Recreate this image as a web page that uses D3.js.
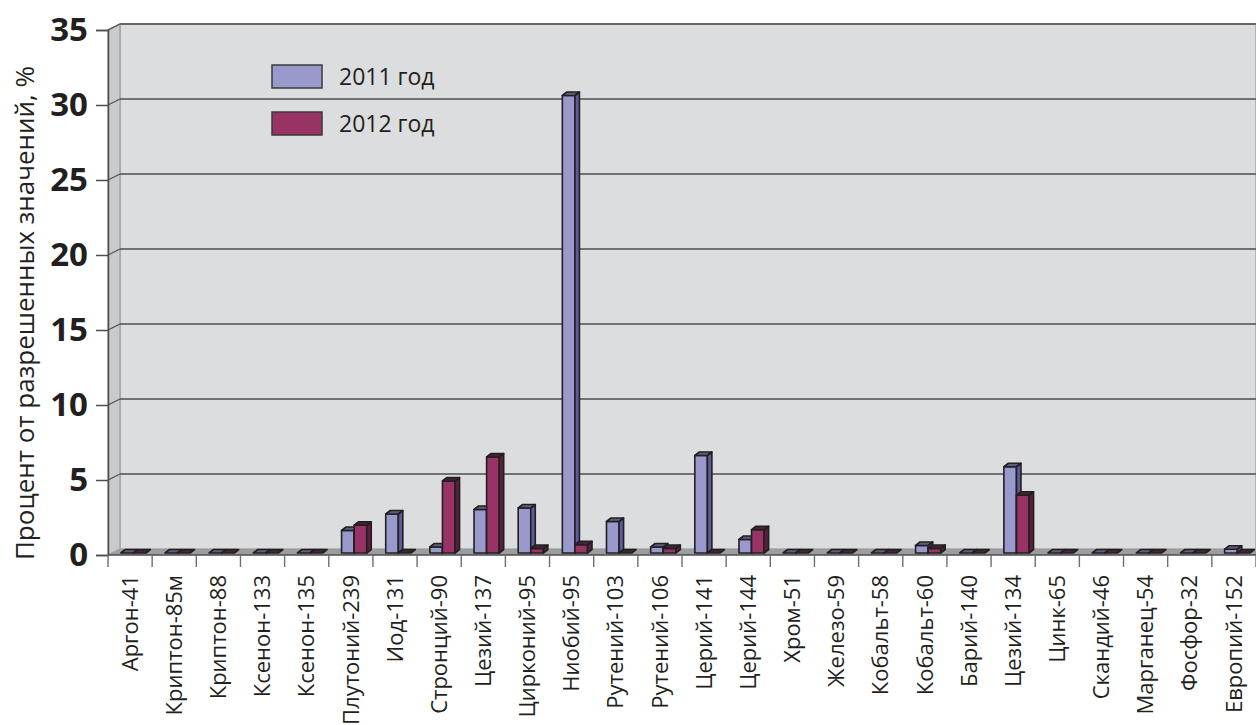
<!DOCTYPE html>
<html lang="ru">
<head>
<meta charset="utf-8">
<script src="https://cdn.jsdelivr.net/npm/d3@7/dist/d3.min.js"></script>
<style>
  html, body { margin: 0; padding: 0; background: #ffffff; }
  svg { display: block; font-family: "Open Sans", "DejaVu Sans", sans-serif; }
</style>
</head>
<body>
<svg id="chart" width="1256" height="725"></svg>
<script>
// Isotopes (categories along the x axis)
const categories = [
  "Аргон-41", "Криптон-85м", "Криптон-88", "Ксенон-133", "Ксенон-135",
  "Плутоний-239", "Иод-131", "Стронций-90", "Цезий-137", "Цирконий-95",
  "Ниобий-95", "Рутений-103", "Рутений-106", "Церий-141", "Церий-144",
  "Хром-51", "Железо-59", "Кобальт-58", "Кобальт-60", "Барий-140",
  "Цезий-134", "Цинк-65", "Скандий-46", "Марганец-54", "Фосфор-32", "Европий-152"
];

// Share of the permitted level, %
const values2011 = [
  0, 0, 0, 0, 0,
  1.5, 2.6, 0.4, 2.9, 3.0,
  30.5, 2.1, 0.4, 6.5, 0.9,
  0, 0, 0, 0.5, 0,
  5.75, 0, 0, 0, 0, 0.25
];
const values2012 = [
  0, 0, 0, 0, 0,
  1.85, 0, 4.8, 6.4, 0.3,
  0.55, 0, 0.3, 0, 1.55,
  0, 0, 0, 0.3, 0,
  3.85, 0, 0, 0, 0, 0
];

const seriesNames = ["2011 год", "2012 год"];
const yTicks = [0, 5, 10, 15, 20, 25, 30, 35];
const yTitle = "Процент от разрешенных значений, %";

const palette = [
  { front: "#9999cc", side: "#5b5b9e", top: "#5e5e80" },
  { front: "#993366", side: "#5a1f3c", top: "#42253a" }
];

const svg = d3.select("#chart");

// Plot frame: front face and depth offset of the walls
const plotLeft = 108, plotRight = 1256, plotTop = 30, plotBottom = 555;
const depthX = 12, depthY = -6;

const x = d3.scaleBand().domain(categories).range([plotLeft, plotRight]);
const y = d3.scaleLinear().domain([0, 35]).range([plotBottom, plotTop]);
// bars stand in the middle of the floor depth
const yBar = d3.scaleLinear().domain([0, 35]).range([plotBottom - 2, plotTop - 2]);
const xSub = d3.scaleBand().domain([0, 1])
  .range([x.bandwidth() * 0.29, x.bandwidth() * 0.86]);

// Back wall
svg.append("rect")
  .attr("x", plotLeft + depthX).attr("y", plotTop + depthY)
  .attr("width", plotRight - plotLeft - depthX).attr("height", plotBottom - plotTop)
  .attr("fill", "#dcdddf").attr("stroke", "#a6a7a9").attr("stroke-width", 1.5);

// Side wall
svg.append("polygon")
  .attr("points", [[plotLeft, plotTop], [plotLeft + depthX, plotTop + depthY], [plotLeft + depthX, plotBottom + depthY], [plotLeft, plotBottom]].join(" "))
  .attr("fill", "#c9cacc").attr("stroke", "#a6a7a9").attr("stroke-width", 1.5);

// Floor
svg.append("polygon")
  .attr("points", [[plotLeft, plotBottom], [plotLeft + depthX, plotBottom + depthY], [plotRight, plotBottom + depthY], [plotRight, plotBottom]].join(" "))
  .attr("fill", "#9c9d9f");

// Gridlines on the back wall and their links on the side wall
const grid = svg.append("g");
yTicks.filter(t => t > 0).forEach(t => {
  grid.append("line")
    .attr("x1", plotLeft + depthX).attr("x2", plotRight)
    .attr("y1", y(t) + depthY).attr("y2", y(t) + depthY)
    .attr("stroke", "#4d4d4f").attr("stroke-width", 1.4);
  grid.append("line")
    .attr("x1", plotLeft).attr("x2", plotLeft + depthX)
    .attr("y1", y(t)).attr("y2", y(t) + depthY)
    .attr("stroke", "#4d4d4f").attr("stroke-width", 1.2);
});

// Legend
const legend = svg.append("g");
seriesNames.forEach((name, i) => {
  const ly = 65 + i * 47;
  legend.append("rect")
    .attr("x", 272).attr("y", ly).attr("width", 50).attr("height", 23)
    .attr("fill", palette[i].front).attr("stroke", "#3a3a3c").attr("stroke-width", 1.5);
  legend.append("text")
    .attr("x", 339).attr("y", ly + 20)
    .attr("font-size", 23).attr("fill", "#231f20")
    .text(name);
});

// 3D bars
const bars = svg.append("g");
const bdx = 4.5, bdy = -3.5;
const series = [values2011, values2012];
categories.forEach((c, ci) => {
  [0, 1].forEach(si => {
    const v = series[si][ci];
    const x0 = x(c) + xSub(si);
    const w = xSub.bandwidth();
    const y0 = yBar(0), y1 = yBar(v);
    const col = palette[si];
    const g = bars.append("g").attr("stroke", "#231f20").attr("stroke-width", 1.6)
      .attr("stroke-linejoin", "round");
    if (v > 0) {
      g.append("rect").attr("x", x0).attr("y", y1).attr("width", w).attr("height", y0 - y1)
        .attr("fill", col.front);
      g.append("polygon")
        .attr("points", [[x0 + w, y1], [x0 + w + bdx, y1 + bdy], [x0 + w + bdx, y0 + bdy], [x0 + w, y0]].join(" "))
        .attr("fill", col.side);
    }
    g.append("polygon")
      .attr("points", [[x0, y1], [x0 + bdx, y1 + bdy], [x0 + w + bdx, y1 + bdy], [x0 + w, y1]].join(" "))
      .attr("fill", col.top);
  });
});

// Y axis
const yAxis = d3.axisLeft(y).tickValues(yTicks).tickSize(12).tickPadding(8);
const ya = svg.append("g").attr("transform", `translate(${plotLeft},0)`).call(yAxis);
ya.select(".domain").attr("stroke", "#4d4d4f").attr("stroke-width", 1.5);
ya.selectAll(".tick line").attr("stroke", "#4d4d4f").attr("stroke-width", 1.5);
ya.selectAll(".tick text")
  .attr("font-size", 33).attr("font-weight", "bold").attr("fill", "#231f20")
  .attr("font-family", "'Open Sans', sans-serif");

// X axis
const xAxis = d3.axisBottom(x).tickValues(categories).tickSize(0).tickPadding(0);
const xa = svg.append("g").attr("transform", `translate(0,${plotBottom})`).call(xAxis);
xa.select(".domain").attr("stroke", "#4d4d4f").attr("stroke-width", 1.5).attr("d", `M${plotLeft},0H${plotRight}`);
xa.selectAll(".tick text")
  .attr("font-size", 22).attr("fill", "#231f20")
  .attr("font-family", "'Open Sans', sans-serif")
  .attr("text-anchor", "end").attr("dy", "0.35em")
  .attr("transform", "translate(0,20) rotate(-90)");
// category separators
const seps = d3.range(categories.length + 1).map(i => plotLeft + i * x.step());
xa.selectAll(".sep").data(seps).enter().append("line")
  .attr("class", "sep")
  .attr("x1", d => d).attr("x2", d => d).attr("y1", 0).attr("y2", 12)
  .attr("stroke", "#6d6e70").attr("stroke-width", 1.4);

// Y title
svg.append("text")
  .attr("transform", `translate(34,313) rotate(-90)`)
  .attr("text-anchor", "middle")
  .attr("font-size", 26).attr("fill", "#231f20")
  .text(yTitle);
</script>
</body>
</html>
